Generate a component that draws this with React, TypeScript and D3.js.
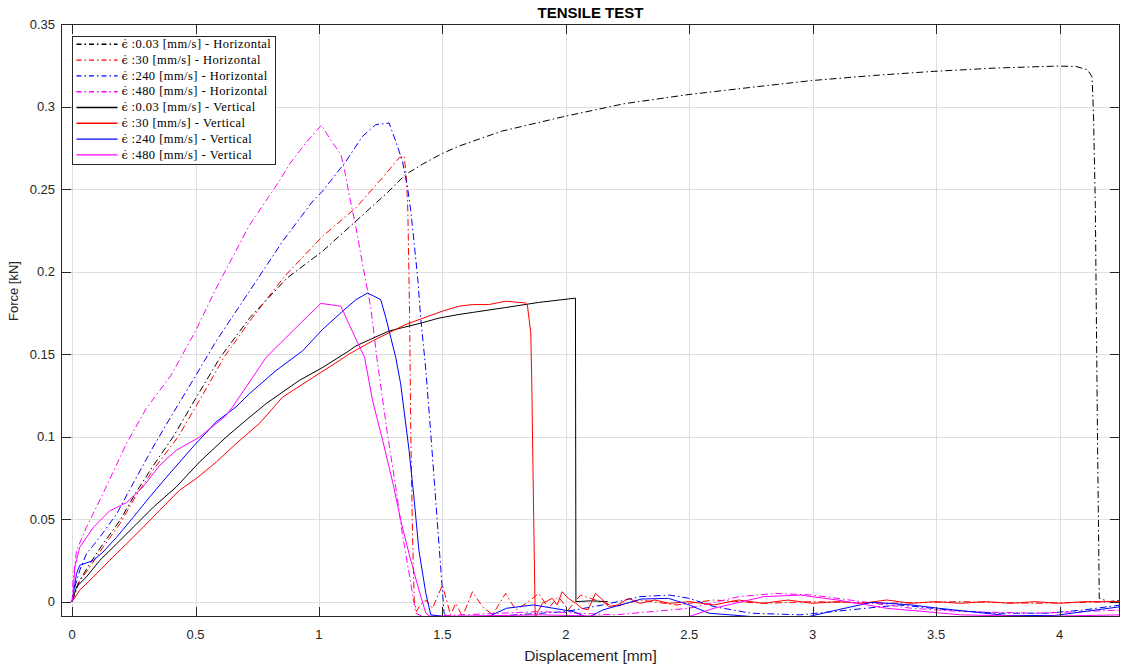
import React from 'react';
import * as d3 from 'd3';

type Pt = [number, number];

// Axis ticks
const xTicks = [0, 0.5, 1, 1.5, 2, 2.5, 3, 3.5, 4];
const xTickLabels = ['0', '0.5', '1', '1.5', '2', '2.5', '3', '3.5', '4'];
const yTicks = [0, 0.05, 0.1, 0.15, 0.2, 0.25, 0.3, 0.35];
const yTickLabels = ['0', '0.05', '0.1', '0.15', '0.2', '0.25', '0.3', '0.35'];

// Force [kN] vs displacement [mm], horizontal specimens
const horiz003: Pt[] = [
  [0, 0], [0.031, 0.013], [0.072, 0.023], [0.125, 0.035], [0.193, 0.049], [0.26, 0.0665],
  [0.327, 0.082], [0.41, 0.1], [0.5, 0.123], [0.6, 0.148], [0.72, 0.172], [0.87, 0.196],
  [1.016, 0.2125], [1.15, 0.2306], [1.284, 0.2488], [1.351, 0.2588], [1.419, 0.265], [1.492, 0.271],
  [1.567, 0.276], [1.739, 0.285], [1.995, 0.294], [2.236, 0.3017], [2.495, 0.3072], [2.75, 0.3116],
  [2.994, 0.3157], [3.246, 0.3188], [3.49, 0.3213], [3.74, 0.3233], [3.989, 0.3245], [4.066, 0.3243],
  [4.113, 0.3223], [4.132, 0.318], [4.138, 0.293], [4.145, 0.24], [4.154, 0.098], [4.161, 0.002],
  [4.2, 0.0], [4.25, 0.001],
];
const horiz30: Pt[] = [
  [0, 0], [0.024, 0.011], [0.072, 0.021], [0.125, 0.033], [0.193, 0.047], [0.26, 0.0645],
  [0.327, 0.0795], [0.43, 0.1], [0.52, 0.123], [0.615, 0.148], [0.73, 0.172], [0.86, 0.197],
  [1.016, 0.2216], [1.15, 0.2387], [1.257, 0.2568], [1.325, 0.269], [1.345, 0.27], [1.354, 0.257],
  [1.36, 0.237], [1.367, 0.176], [1.372, 0.102], [1.379, 0.041], [1.386, 0.001], [1.395, -0.006],
  [1.41, -0.002], [1.433, 0.001], [1.46, -0.004], [1.5, 0.01], [1.533, -0.008], [1.554, -0.001],
  [1.581, -0.009], [1.622, 0.006], [1.662, -0.003], [1.703, -0.008], [1.756, 0.005], [1.797, -0.005],
  [1.84, -0.001], [1.89, 0.005], [1.93, -0.004], [1.97, 0.003], [2.01, -0.005], [2.06, 0.004],
  [2.1, 0.002], [2.2, -0.003], [2.3, 0.001], [2.45, -0.002], [2.6, 0.001], [2.8, -0.001],
  [3.0, 0.0], [3.3, -0.001], [3.6, 0.0], [3.9, -0.001], [4.25, 0.0],
];
const horiz240: Pt[] = [
  [0, 0], [0.004, 0.005], [0.031, 0.019], [0.058, 0.029], [0.112, 0.039], [0.18, 0.053],
  [0.247, 0.0716], [0.328, 0.0937], [0.408, 0.114], [0.489, 0.134], [0.584, 0.158], [0.718, 0.188],
  [0.854, 0.2186], [0.975, 0.2427], [1.015, 0.2488], [1.11, 0.267], [1.177, 0.282], [1.23, 0.289],
  [1.284, 0.29], [1.311, 0.279], [1.338, 0.267], [1.359, 0.2508], [1.372, 0.2367], [1.386, 0.2166],
  [1.4, 0.196], [1.412, 0.172], [1.432, 0.142], [1.453, 0.1017], [1.473, 0.0614], [1.493, 0.021],
  [1.507, -0.007], [1.52, -0.0095], [1.65, -0.0095], [1.8, -0.008], [2.0, -0.006], [2.15, -0.002],
  [2.3, 0.003], [2.42, 0.004], [2.5, 0.002], [2.6, -0.003], [2.75, -0.007], [2.95, -0.008],
  [3.15, -0.005], [3.35, -0.002], [3.55, -0.005], [3.75, -0.007], [3.95, -0.007], [4.1, -0.005],
  [4.25, -0.002],
];
const horiz480: Pt[] = [
  [0, 0], [0.004, 0.013], [0.018, 0.031], [0.058, 0.045], [0.125, 0.0655], [0.22, 0.0957],
  [0.3, 0.117], [0.4, 0.137], [0.5, 0.164], [0.584, 0.19], [0.718, 0.228], [0.84, 0.255],
  [0.88, 0.265], [0.947, 0.278], [1.01, 0.2887], [1.055, 0.278], [1.089, 0.271], [1.103, 0.262],
  [1.122, 0.247], [1.15, 0.2266], [1.17, 0.21], [1.19, 0.194], [1.21, 0.178], [1.237, 0.145],
  [1.277, 0.102], [1.311, 0.0695], [1.338, 0.041], [1.372, 0.011], [1.392, -0.007], [1.42, -0.009],
  [1.9, -0.006], [2.2, -0.008], [2.5, -0.004], [2.7, 0.003], [2.85, 0.005], [3.0, 0.004],
  [3.2, 0.0], [3.4, -0.004], [3.6, -0.006], [3.9, -0.007], [4.1, -0.006], [4.25, -0.005],
];

// Vertical specimens
const vert003: Pt[] = [
  [0, 0], [0.018, 0.009], [0.058, 0.015], [0.112, 0.025], [0.18, 0.035], [0.247, 0.045],
  [0.33, 0.0574], [0.422, 0.0695], [0.516, 0.0846], [0.624, 0.0997], [0.705, 0.11], [0.786, 0.12],
  [0.92, 0.134], [1.016, 0.142], [1.122, 0.152], [1.15, 0.155], [1.284, 0.164], [1.419, 0.169],
  [1.486, 0.1718], [1.567, 0.174], [1.621, 0.1752], [1.756, 0.1782], [1.89, 0.1813], [2.039, 0.1839],
  [2.041, 0.0], [2.1, 0.0005], [2.17, 0.0],
];
const vert30: Pt[] = [
  [0, 0], [0.031, 0.007], [0.086, 0.015], [0.152, 0.025], [0.22, 0.035], [0.287, 0.045],
  [0.355, 0.0554], [0.435, 0.0675], [0.503, 0.0746], [0.584, 0.0846], [0.664, 0.0957], [0.759, 0.108],
  [0.853, 0.124], [0.988, 0.137], [1.082, 0.146], [1.122, 0.15], [1.217, 0.158], [1.352, 0.168],
  [1.5, 0.176], [1.567, 0.179], [1.621, 0.18], [1.688, 0.18], [1.756, 0.182], [1.837, 0.181],
  [1.844, 0.18], [1.858, 0.163], [1.862, 0.134], [1.87, 0.05], [1.876, -0.0095], [1.905, -0.001],
  [1.945, 0.002], [1.965, -0.002], [1.985, 0.006], [2.01, 0.002], [2.04, -0.001], [2.065, -0.004],
  [2.09, -0.005], [2.12, 0.005], [2.15, 0.001], [2.173, -0.003], [2.21, -0.002], [2.255, 0.002],
  [2.3, -0.001], [2.36, 0.001], [2.42, -0.001], [2.5, 0.0], [2.6, -0.002], [2.7, 0.001],
  [2.8, -0.001], [2.9, 0.001], [3.0, -0.001], [3.1, 0.0], [3.2, -0.001], [3.3, 0.001],
  [3.4, -0.001], [3.5, 0.0], [3.6, -0.001], [3.7, 0.0], [3.8, -0.001], [3.9, 0.0], [4.0, -0.001],
  [4.1, 0.0], [4.25, 0.0],
];
const vert240: Pt[] = [
  [0, 0], [0.018, 0.017], [0.031, 0.022], [0.086, 0.025], [0.125, 0.03], [0.18, 0.039],
  [0.247, 0.051], [0.314, 0.0634], [0.395, 0.0776], [0.489, 0.0937], [0.584, 0.109], [0.664, 0.118],
  [0.718, 0.126], [0.826, 0.14], [0.934, 0.152], [1.015, 0.165], [1.096, 0.176], [1.15, 0.183],
  [1.197, 0.187], [1.25, 0.183], [1.271, 0.172], [1.291, 0.16], [1.311, 0.148], [1.331, 0.132],
  [1.365, 0.0917], [1.386, 0.0614], [1.405, 0.031], [1.433, 0.005], [1.453, -0.008], [1.55, -0.0097],
  [1.676, -0.0097], [1.76, -0.004], [1.869, -0.002], [1.95, -0.004], [2.03, -0.006], [2.09, -0.0097],
  [2.15, -0.005], [2.307, 0.0016], [2.416, 0.002], [2.5, -0.002], [2.58, -0.007], [2.75, -0.009],
  [2.965, -0.0097], [3.1, -0.005], [3.24, -0.0004], [3.4, -0.002], [3.51, -0.004], [3.786, -0.0084],
  [3.98, -0.0084], [4.25, -0.003],
];
const vert480: Pt[] = [
  [0, 0], [0.004, 0.004], [0.011, 0.021], [0.031, 0.033], [0.086, 0.045], [0.152, 0.055],
  [0.22, 0.06], [0.287, 0.0695], [0.355, 0.0826], [0.422, 0.0917], [0.516, 0.0997], [0.624, 0.1128],
  [0.65, 0.118], [0.732, 0.136], [0.786, 0.148], [0.934, 0.17], [1.008, 0.1807], [1.089, 0.179],
  [1.116, 0.17], [1.15, 0.159], [1.185, 0.148], [1.217, 0.122], [1.258, 0.0977], [1.3, 0.0715],
  [1.331, 0.0494], [1.365, 0.029], [1.405, 0.007], [1.433, -0.007], [1.45, -0.009], [1.9, -0.008],
  [2.2, -0.009], [2.5, -0.009], [2.6, -0.004], [2.8, 0.003], [2.95, 0.004], [3.1, 0.001],
  [3.3, -0.004], [3.6, -0.008], [3.9, -0.009], [4.25, -0.008],
];

const rateSymbol = 'ϵ̇';
const seriesLabels = [
  ' :0.03 [mm/s] - Horizontal',
  ' :30 [mm/s] - Horizontal',
  ' :240 [mm/s] - Horizontal',
  ' :480 [mm/s] - Horizontal',
  ' :0.03 [mm/s] - Vertical',
  ' :30 [mm/s] - Vertical',
  ' :240 [mm/s] - Vertical',
  ' :480 [mm/s] - Vertical',
];
const seriesColors = ['#000000', '#ff0000', '#0000ff', '#ff00ff', '#000000', '#ff0000', '#0000ff', '#ff00ff'];
const seriesDashed = [true, true, true, true, false, false, false, false];
const seriesData = [horiz003, horiz30, horiz240, horiz480, vert003, vert30, vert240, vert480];

const W = 1123;
const H = 667;
const M = { left: 61, right: 1120, top: 24, bottom: 617 };
const DASH = '7,3,1.5,3';
const AX = '#262626';
const SANS = '"Liberation Sans", Arial, Helvetica, sans-serif';
const SERIF = '"Liberation Serif", "DejaVu Serif", serif';

export default function App() {
  const x = d3.scaleLinear().domain([-0.045, 4.245]).range([M.left, M.right]);
  const y = d3.scaleLinear().domain([-0.0093, 0.35]).range([M.bottom, M.top]);
  const line = d3.line<Pt>().x((d) => x(d[0])).y((d) => y(d[1]));
  const tickLen = 10;

  const legX = 72.5;
  const legY = 36.5;
  const legW = 203;
  const legH = 128;
  const rowH = 15.8;

  return (
    <svg
      width={W}
      height={H}
      viewBox={`0 0 ${W} ${H}`}
      style={{ position: 'absolute', left: 0, top: 0, background: '#fff' }}
    >
      <defs>
        <clipPath id="plotArea">
          <rect x={M.left} y={M.top} width={M.right - M.left} height={M.bottom - M.top} />
        </clipPath>
      </defs>
      <rect x={0} y={0} width={W} height={H} fill="#fff" />

      {/* grid */}
      <g stroke="#dfdfdf" strokeWidth={1}>
        {xTicks.map((t) => (
          <line key={`gx${t}`} x1={Math.round(x(t)) + 0.5} x2={Math.round(x(t)) + 0.5} y1={M.top} y2={M.bottom} />
        ))}
        {yTicks.map((t) => (
          <line key={`gy${t}`} y1={Math.round(y(t)) + 0.5} y2={Math.round(y(t)) + 0.5} x1={M.left} x2={M.right} />
        ))}
      </g>

      {/* curves */}
      <g clipPath="url(#plotArea)" fill="none" strokeWidth={1} strokeLinejoin="round">
        {seriesData.map((d, i) => (
          <path
            key={i}
            d={line(d) || ''}
            stroke={seriesColors[i]}
            strokeDasharray={seriesDashed[i] ? DASH : undefined}
          />
        ))}
      </g>

      {/* axes box and ticks */}
      <g stroke={AX} strokeWidth={1} fill="none">
        <rect x={M.left + 0.5} y={M.top + 0.5} width={M.right - M.left - 1} height={M.bottom - M.top - 1} />
        {xTicks.map((t) => {
          const px = Math.round(x(t)) + 0.5;
          return (
            <g key={`tx${t}`}>
              <line x1={px} x2={px} y1={M.bottom} y2={M.bottom - tickLen} />
              <line x1={px} x2={px} y1={M.top} y2={M.top + tickLen} />
            </g>
          );
        })}
        {yTicks.map((t) => {
          const py = Math.round(y(t)) + 0.5;
          return (
            <g key={`ty${t}`}>
              <line y1={py} y2={py} x1={M.left} x2={M.left + tickLen} />
              <line y1={py} y2={py} x1={M.right} x2={M.right - tickLen} />
            </g>
          );
        })}
      </g>

      {/* tick labels */}
      <g fill={AX} fontFamily={SANS} fontSize={13}>
        {xTicks.map((t, i) => (
          <text key={`lx${t}`} x={x(t)} y={639} textAnchor="middle">
            {xTickLabels[i]}
          </text>
        ))}
        {yTicks.map((t, i) => (
          <text key={`ly${t}`} x={55} y={y(t) + 4.5} textAnchor="end">
            {yTickLabels[i]}
          </text>
        ))}
      </g>

      {/* axis labels and title */}
      <text x={(M.left + M.right) / 2} y={661} textAnchor="middle" fill={AX} fontFamily={SANS} fontSize={15.5}>
        Displacement [mm]
      </text>
      <text
        transform={`translate(18, 291) rotate(-90)`}
        textAnchor="middle"
        fill={AX}
        fontFamily={SANS}
        fontSize={13}
      >
        Force [kN]
      </text>
      <text
        x={(M.left + M.right) / 2}
        y={17.5}
        textAnchor="middle"
        fill="#000"
        fontFamily={SANS}
        fontSize={15}
        fontWeight="bold"
      >
        TENSILE TEST
      </text>

      {/* legend */}
      <g>
        <rect x={legX} y={legY} width={legW} height={legH} fill="#fff" stroke={AX} strokeWidth={1} />
        {seriesLabels.map((lab, i) => {
          const cy = legY + 7.8 + i * rowH;
          return (
            <g key={`leg${i}`}>
              <line
                x1={legX + 4}
                x2={legX + 45}
                y1={cy}
                y2={cy}
                stroke={seriesColors[i]}
                strokeWidth={1.4}
                strokeDasharray={seriesDashed[i] ? '5,3,1.5,3' : undefined}
              />
              <text x={legX + 49} y={cy + 3.7} fontFamily={SERIF} fontSize={12.5} fill="#000" letterSpacing={0.45}>
                <tspan fontFamily='"DejaVu Serif", serif' fontSize={11.5} letterSpacing={0}>
                  {rateSymbol}
                </tspan>
                {lab}
              </text>
            </g>
          );
        })}
      </g>
    </svg>
  );
}
